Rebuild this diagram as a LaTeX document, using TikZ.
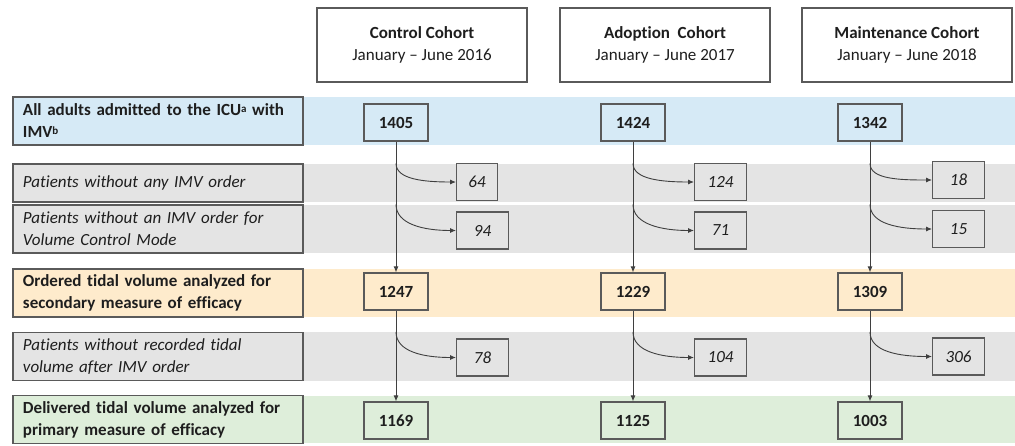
\documentclass[tikz,border=0pt]{standalone}
\usepackage{fontspec}
\setmainfont{Carlito}[Ligatures=NoCommon]
\usetikzlibrary{positioning, arrows.meta}

\definecolor{bandblue}{HTML}{D6EAF6}
\definecolor{bandgray}{HTML}{E4E4E4}
\definecolor{bandorange}{HTML}{FEEBCC}
\definecolor{bandgreen}{HTML}{DEEEDA}
\definecolor{boxgray}{HTML}{5A5A5A}
\definecolor{linegray}{HTML}{3F3F3F}
\definecolor{textdark}{HTML}{1E1E1E}

\newcommand{\flowfont}{\fontsize{17}{22}\selectfont}

\begin{document}
\begin{tikzpicture}[x=1pt, y=-1pt,
    >={Latex[length=6pt, width=5pt]},
    every node/.style={font=\flowfont, text=textdark},
    rowbox/.style={draw=boxgray, line width=1.2pt, minimum width=290pt,
        minimum height=48pt, text width=270pt, align=left, inner sep=0pt},
    headbox/.style={draw=boxgray, line width=1.2pt, fill=white,
        minimum width=210pt, minimum height=74pt, align=center},
    countbox/.style={draw=boxgray, line width=1.2pt, minimum width=64pt,
        minimum height=37pt, inner sep=0pt, font=\flowfont\bfseries},
    dropbox/.style={countbox, minimum width=52pt, anchor=west,
        fill=bandgray, font=\flowfont\itshape},
    flow/.style={->, draw=linegray, line width=0.9pt}]

    \useasboundingbox (0,0) rectangle (1015,445);

    % Add the coloured bands
    \fill[bandblue]   (13,97)  rectangle (1015,145);
    \fill[bandgray]   (13,164) rectangle (1015,202);
    \fill[bandgray]   (13,205) rectangle (1015,253);
    \fill[bandorange] (13,269) rectangle (1015,317);
    \fill[bandgray]   (13,332) rectangle (1015,381);
    \fill[bandgreen]  (13,396) rectangle (1015,443);

    % Add the cohort headers
    \node[headbox] (h_control) at (422,45)
        {\textbf{Control Cohort}\\January -- June 2016};
    \node[headbox] (h_adoption) at (665,45)
        {\textbf{Adoption~ Cohort}\\January -- June 2017};
    \node[headbox] (h_maint) at (907,45)
        {\textbf{Maintenance Cohort}\\January -- June 2018};

    % Add the row labels
    \node[rowbox, fill=bandblue] (r_all) at (158,121)
        {\bfseries All adults admitted to the ICU\raisebox{3pt}{\fontsize{11}{11}\selectfont a} with\\IMV\raisebox{3pt}{\fontsize{11}{11}\selectfont b}};
    \node[rowbox, fill=bandgray, minimum height=38pt] (r_noorder) at (158,183)
        {\itshape Patients without any IMV order};
    \node[rowbox, fill=bandgray] (r_novcm) at (158,229)
        {\itshape Patients without an IMV order for\\Volume Control Mode};
    \node[rowbox, fill=bandorange] (r_ordered) at (158,293)
        {\bfseries Ordered tidal volume analyzed for\\secondary measure of efficacy};
    \node[rowbox, fill=bandgray] (r_norec) at (158,356.5)
        {\itshape Patients without recorded tidal\\volume after IMV order};
    \node[rowbox, fill=bandgreen] (r_deliv) at (158,419.5)
        {\bfseries Delivered tidal volume analyzed for\\primary measure of efficacy};

    % Add the counts of the control cohort
    \node[countbox, fill=bandblue]   (c_1405) at (396,122.5) {1405};
    \node[countbox, fill=bandorange] (c_1247) at (396,291.5) {1247};
    \node[countbox, fill=bandgreen]  (c_1169) at (396,420.5) {1169};
    \node[dropbox, minimum width=41pt] (c_64) at (456,182) {64};
    \node[dropbox] (c_94) at (456,230.5) {94};
    \node[dropbox] (c_78) at (456,357.5) {78};

    % Add the counts of the adoption cohort
    \node[countbox, fill=bandblue]   (a_1424) at (633,122.5) {1424};
    \node[countbox, fill=bandorange] (a_1229) at (633,291.5) {1229};
    \node[countbox, fill=bandgreen]  (a_1125) at (633,420.5) {1125};
    \node[dropbox] (a_124) at (694,182) {124};
    \node[dropbox] (a_71)  at (694,230.5) {71};
    \node[dropbox] (a_104) at (694,357.5) {104};

    % Add the counts of the maintenance cohort
    \node[countbox, fill=bandblue]   (m_1342) at (870,122.5) {1342};
    \node[countbox, fill=bandorange] (m_1309) at (870,291.5) {1309};
    \node[countbox, fill=bandgreen]  (m_1003) at (870,420.5) {1003};
    \node[dropbox] (m_18)  at (932,180) {18};
    \node[dropbox] (m_15)  at (932,229) {15};
    \node[dropbox] (m_306) at (932,356.5) {306};

    % Connect the counts with arrows
    \draw[flow] (c_1405) -- (c_1247);
    \draw[flow] (c_1247) -- (c_1169);
    \draw[flow] (a_1424) -- (a_1229);
    \draw[flow] (a_1229) -- (a_1125);
    \draw[flow] (m_1342) -- (m_1309);
    \draw[flow] (m_1309) -- (m_1003);

    % Excluded patients branch off to the right
    \draw[flow] (c_1405 |- r_noorder.north) .. controls +(0,16) and +(-32,0) .. (c_64.west);
    \draw[flow] (c_1405 |- r_novcm.north)   .. controls +(0,20) and +(-32,0) .. (c_94.west);
    \draw[flow] (c_1247 |- r_norec.north)   .. controls +(0,20) and +(-32,0) .. (c_78.west);
    \draw[flow] (a_1424 |- r_noorder.north) .. controls +(0,16) and +(-32,0) .. (a_124.west);
    \draw[flow] (a_1424 |- r_novcm.north)   .. controls +(0,20) and +(-32,0) .. (a_71.west);
    \draw[flow] (a_1229 |- r_norec.north)   .. controls +(0,20) and +(-32,0) .. (a_104.west);
    \draw[flow] (m_1342 |- r_noorder.north) .. controls +(0,16) and +(-32,0) .. (m_18.west);
    \draw[flow] (m_1342 |- r_novcm.north)   .. controls +(0,20) and +(-32,0) .. (m_15.west);
    \draw[flow] (m_1309 |- r_norec.north)   .. controls +(0,20) and +(-32,0) .. (m_306.west);
\end{tikzpicture}
\end{document}
